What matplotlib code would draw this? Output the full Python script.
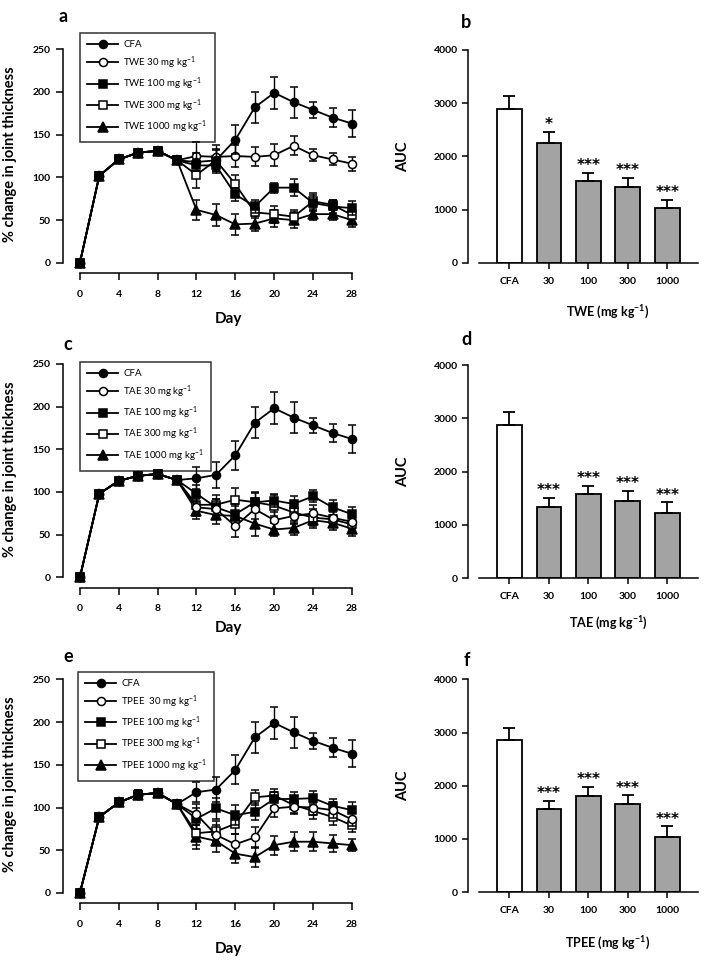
import numpy as np
import matplotlib
matplotlib.use("Agg")
import matplotlib.pyplot as plt
from matplotlib.lines import Line2D

plt.rcParams['font.family'] = ['Lato', 'DejaVu Sans']
plt.rcParams['mathtext.fontset'] = 'custom'
plt.rcParams['mathtext.rm'] = 'Lato'
plt.rcParams['mathtext.bf'] = 'Lato:bold'
plt.rcParams['mathtext.default'] = 'regular'

days = [0, 2, 4, 6, 8, 10, 12, 14, 16, 18, 20, 22, 24, 26, 28]

# panel a - TWE
early_a = [0, 102, 121, 129, 131, 120]
cfa_a = early_a + [118, 120, 144, 182, 199, 188, 179, 170, 163]
twe30 = early_a + [125, 124, 125, 124, 126, 137, 126, 121, 116]
twe100 = early_a + [114, 114, 80, 66, 88, 88, 70, 66, 64]
twe300 = early_a + [103, 120, 92, 59, 57, 54, 72, 68, 56]
twe1000 = early_a + [62, 56, 45, 46, 52, 50, 57, 57, 50]
cfa_a_err = [0, 3, 4, 4, 4, 4, 10, 13, 17, 18, 19, 18, 9, 11, 16]
twe30_err = [0, 3, 4, 4, 4, 4, 17, 14, 13, 11, 13, 11, 7, 7, 8]
twe100_err = [0, 3, 4, 4, 4, 4, 6, 9, 8, 8, 6, 10, 9, 8, 8]
twe300_err = [0, 3, 4, 4, 4, 4, 15, 12, 11, 7, 10, 8, 10, 6, 8]
twe1000_err = [0, 3, 4, 4, 4, 4, 12, 13, 12, 9, 10, 9, 7, 7, 8]

# panel c - TAE
early_c = [0, 98, 113, 119, 121, 114]
cfa_c = early_c + [116, 120, 143, 181, 198, 187, 178, 169, 162]
tae30 = early_c + [82, 80, 60, 80, 67, 72, 75, 70, 65]
tae100 = early_c + [98, 82, 74, 88, 90, 86, 95, 82, 74]
tae300 = early_c + [85, 85, 91, 88, 84, 76, 70, 68, 62]
tae1000 = early_c + [78, 73, 72, 63, 56, 58, 67, 64, 57]
cfa_c_err = [0, 3, 3, 3, 3, 3, 13, 15, 17, 18, 19, 18, 9, 11, 16]
tae30_err = [0, 3, 3, 3, 3, 3, 10, 12, 13, 12, 10, 9, 10, 9, 8]
tae100_err = [0, 3, 3, 3, 3, 3, 10, 10, 12, 11, 8, 9, 7, 9, 8]
tae300_err = [0, 3, 3, 3, 3, 3, 12, 12, 14, 12, 12, 12, 10, 9, 8]
tae1000_err = [0, 3, 3, 3, 3, 3, 10, 10, 12, 14, 8, 8, 9, 8, 8]

# panel e - TPEE
early_e = [0, 89, 106, 115, 117, 104]
cfa_e = early_e + [118, 121, 144, 182, 199, 188, 178, 170, 163]
tpee30 = early_e + [92, 68, 57, 65, 99, 101, 100, 97, 86]
tpee100 = early_e + [87, 99, 91, 95, 110, 110, 111, 102, 97]
tpee300 = early_e + [70, 72, 81, 112, 114, 103, 96, 89, 79]
tpee1000 = early_e + [66, 61, 46, 42, 56, 60, 60, 58, 56]
cfa_e_err = [0, 4, 4, 5, 5, 4, 12, 15, 17, 18, 19, 18, 9, 11, 16]
tpee30_err = [0, 4, 4, 5, 5, 4, 12, 12, 12, 12, 10, 9, 9, 9, 8]
tpee100_err = [0, 4, 4, 5, 5, 4, 12, 12, 12, 10, 8, 8, 8, 8, 10]
tpee300_err = [0, 4, 4, 5, 5, 4, 14, 12, 12, 9, 8, 9, 9, 10, 8]
tpee1000_err = [0, 4, 4, 5, 5, 4, 14, 13, 11, 12, 11, 11, 11, 10, 7]

# AUC bars
bar_labels = ['CFA', '30', '100', '300', '1000']
auc_twe = [2888, 2262, 1544, 1425, 1025]
auc_twe_err = [240, 205, 155, 170, 155]
auc_tae = [2875, 1331, 1581, 1444, 1219]
auc_tae_err = [250, 170, 150, 200, 200]
auc_tpee = [2861, 1559, 1809, 1653, 1045]
auc_tpee_err = [230, 160, 175, 170, 190]
stars_twe = ['', '*', '***', '***', '***']
stars_tae = ['', '***', '***', '***', '***']
stars_tpee = ['', '***', '***', '***', '***']

W, H = 719, 965
fig = plt.figure(figsize=(W / 100, H / 100), dpi=100)

markers = [('o', 'k'), ('o', 'white'), ('s', 'k'), ('s', 'white'), ('^', 'k')]


def line_panel(rect, series, errs, names, leg_anchor, day_y):
    ax = fig.add_axes(rect)
    handles = []
    for i in [4, 3, 2, 1, 0]:
        m, fc = markers[i]
        ms = 6.5 if m == '^' else (5.2 if m == 's' else 5.8)
        ax.errorbar(days, series[i], yerr=errs[i], color='k', lw=1.3,
                    marker=m, mfc=fc, mec='k', ms=ms, mew=1.1, capsize=3,
                    elinewidth=1.0, capthick=1.0, zorder=3 + (5 - i))
    for m, fc in markers:
        ms = 6.5 if m == '^' else (5.2 if m == 's' else 5.8)
        handles.append(Line2D([], [], color='k', lw=1.3, marker=m, mfc=fc,
                              mec='k', ms=ms, mew=1.1))
    ax.set_xlim(-1.74, 28.6)
    ax.set_ylim(-12, 250)
    ax.spines['top'].set_visible(False)
    ax.spines['right'].set_visible(False)
    ax.spines['left'].set_bounds(0, 250)
    ax.spines['bottom'].set_bounds(0, 28)
    for s in ['left', 'bottom']:
        ax.spines[s].set_linewidth(1.1)
    ax.set_xticks(range(0, 29, 4))
    ax.set_yticks(range(0, 251, 50))
    ax.tick_params(direction='out', length=5, width=1.1, labelsize=7.5)
    ax.tick_params(axis='x', pad=7)
    ax.tick_params(axis='y', pad=4)
    for lab in ax.get_xticklabels() + ax.get_yticklabels():
        lab.set_fontweight('bold')
    ax.set_ylabel('% change in joint thickness', fontsize=10.5, fontweight='bold')
    ax.yaxis.set_label_coords(-0.156, 0.53)
    ax.set_xlabel('Day', fontsize=11, fontweight='bold')
    ax.xaxis.set_label_coords(0.56, day_y)
    leg = ax.legend(handles, names, loc='upper left', bbox_to_anchor=leg_anchor,
                    fontsize=7, frameon=True, fancybox=False, handlelength=3.2,
                    handletextpad=0.5, labelspacing=0.5, borderpad=0.75,
                    borderaxespad=0)
    leg.get_frame().set_edgecolor('k')
    leg.get_frame().set_linewidth(1.1)
    return ax


def bar_panel(rect, vals, errs, stars, xlabel, xl_y):
    ax = fig.add_axes(rect)
    x = np.arange(len(vals))
    colors = ['white'] + ['#a3a3a3'] * (len(vals) - 1)
    ax.bar(x, vals, width=0.63, color=colors, edgecolor='k', linewidth=1.3, zorder=2)
    ax.errorbar(x, vals, yerr=[np.zeros(len(vals)), errs], fmt='none', ecolor='k',
                elinewidth=1.3, capsize=4, capthick=1.3, zorder=3)
    for xi, v, e, st in zip(x, vals, errs, stars):
        if st:
            ax.text(xi, v + e + 50, st, ha='center', va='baseline', fontsize=11,
                    fontweight='bold', family='DejaVu Sans')
    ax.set_xlim(-1.05, 4.8)
    ax.set_ylim(0, 4000)
    ax.spines['top'].set_visible(False)
    ax.spines['right'].set_visible(False)
    ax.spines['left'].set_bounds(0, 4000)
    ax.spines['bottom'].set_bounds(-0.77, 4.78)
    for s in ['left', 'bottom']:
        ax.spines[s].set_linewidth(1.1)
    ax.set_xticks(x)
    ax.set_xticklabels(bar_labels)
    ax.set_yticks(range(0, 4001, 1000))
    ax.tick_params(direction='out', length=4, width=1.1, labelsize=7.5)
    ax.tick_params(axis='x', pad=6)
    for lab in ax.get_xticklabels() + ax.get_yticklabels():
        lab.set_fontweight('bold')
    ax.set_ylabel('AUC', fontsize=10.5, fontweight='bold')
    ax.yaxis.set_label_coords(-0.25, 0.5)
    ax.set_xlabel(xlabel, fontsize=9, fontweight='bold')
    ax.xaxis.set_label_coords(0.606, xl_y)
    return ax


lw_ = 0.410
lh = 0.232
line_panel([0.0876, 0.717, lw_, lh], [cfa_a, twe30, twe100, twe300, twe1000],
           [cfa_a_err, twe30_err, twe100_err, twe300_err, twe1000_err],
           ['CFA', 'TWE 30 mg kg$^{-1}$', 'TWE 100 mg kg$^{-1}$',
            'TWE 300 mg kg$^{-1}$', 'TWE 1000 mg kg$^{-1}$'],
           (0.058, 1.073), -0.175)
line_panel([0.0876, 0.391, lw_, lh], [cfa_c, tae30, tae100, tae300, tae1000],
           [cfa_c_err, tae30_err, tae100_err, tae300_err, tae1000_err],
           ['CFA', 'TAE 30 mg kg$^{-1}$', 'TAE 100 mg kg$^{-1}$',
            'TAE 300 mg kg$^{-1}$', 'TAE 1000 mg kg$^{-1}$'],
           (0.058, 1.009), -0.15)
line_panel([0.0876, 0.064, lw_, lh], [cfa_e, tpee30, tpee100, tpee300, tpee1000],
           [cfa_e_err, tpee30_err, tpee100_err, tpee300_err, tpee1000_err],
           ['CFA', 'TPEE  30 mg kg$^{-1}$', 'TPEE 100 mg kg$^{-1}$',
            'TPEE 300 mg kg$^{-1}$', 'TPEE 1000 mg kg$^{-1}$'],
           (0.051, 1.034), -0.175)

bw = 0.321
bar_panel([0.651, 0.7275, bw, 0.2207], auc_twe, auc_twe_err, stars_twe,
          'TWE (mg kg$^{-1}$)', -0.19)
bar_panel([0.651, 0.401, bw, 0.2207], auc_tae, auc_tae_err, stars_tae,
          'TAE (mg kg$^{-1}$)', -0.175)
bar_panel([0.651, 0.0754, bw, 0.2207], auc_tpee, auc_tpee_err, stars_tpee,
          'TPEE (mg kg$^{-1}$)', -0.2)

for letter, px, py in [('a', 63, 17), ('b', 466, 23), ('c', 68, 345),
                       ('d', 466, 340), ('e', 68, 657), ('f', 467, 660)]:
    fig.text(px / W, 1 - py / H, letter, ha='center', va='center',
             fontsize=13, fontweight='bold')

fig.savefig('out.png', dpi=100)
